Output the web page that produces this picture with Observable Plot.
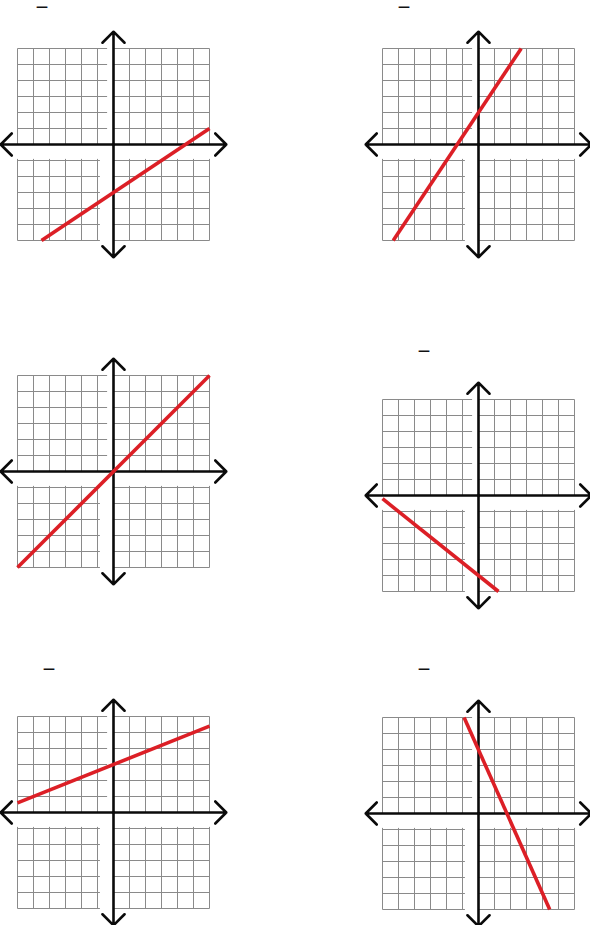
<!DOCTYPE html>
<html><head><meta charset="utf-8">
<script src="https://cdn.jsdelivr.net/npm/d3@7"></script>
<script src="https://cdn.jsdelivr.net/npm/@observablehq/plot@0.6"></script>
<style>
html,body{margin:0;padding:0;background:#fff;}
#page{position:relative;width:590px;height:925px;overflow:hidden;background:#fff;font-family:"DejaVu Sans",sans-serif;}
.g{position:absolute;width:240px;height:240px;}
.g svg{overflow:visible;background:transparent;max-width:none !important;width:240px !important;height:240px !important;display:block;}
.bar{position:absolute;font-size:12px;line-height:14px;font-weight:bold;color:#111;white-space:nowrap;}
</style></head><body><div id="page"></div>
<script>
// grid ticks (units) and axis reach
const gridTicks = [-6,-5,-4,-3,-2,-1,0,1,2,3,4,5,6];
const axisReach = 7.05;

// the six red lines, endpoints (graph units)
const graphIds   = ["1","2","3","4","5","6"];
const lineStartX = [-4.5, -5.33, -6, -6,   -6,  -0.9];
const lineStartY = [-6,   -6,    -6, -0.2,  0.6,  6];
const lineEndX   = [ 6,    2.67,  6,  1.25, 6,    4.45];
const lineEndY   = [ 1,    6,     6, -6,    5.4, -6];

// fraction-bar glyphs seen above some graphs
const barText = ["—","—","—","—","—"];

// layout: origin pixel of each graph
const originX = [113, 477.5, 113, 477.5, 113, 477.5];
const originY = [144, 144, 471, 495.3, 812.3, 812.5];
const barLeft = [36, 398, 418, 43, 418];
const barTop  = [0, 0, 343.5, 661.5, 661.5];

const page = document.getElementById("page");
const unit = 16, half = 7.5, size = 2 * half * unit;

// grid segments built from the tick list
const gridSegs = [];
for (const t of gridTicks) {
  gridSegs.push({x1: t, y1: 0, x2: t, y2: 6});
  gridSegs.push({x1: t, y1: -6, x2: t, y2: -0.9});
  if (t !== 0) {
    gridSegs.push({x1: 0, y1: t, x2: 6, y2: t});
    gridSegs.push({x1: -6, y1: t, x2: t > 0 ? -0.4 : -0.85, y2: t});
  }
}
const axes = [
  {x1: 0, y1: 0, x2: axisReach, y2: 0},
  {x1: 0, y1: 0, x2: -axisReach, y2: 0},
  {x1: 0, y1: 0, x2: 0, y2: axisReach},
  {x1: 0, y1: 0, x2: 0, y2: -axisReach}
];

graphIds.forEach((id, i) => {
  const seg = [{x1: lineStartX[i], y1: lineStartY[i], x2: lineEndX[i], y2: lineEndY[i]}];
  const chart = Plot.plot({
    width: size, height: size, margin: 0,
    x: {domain: [-half, half], axis: null},
    y: {domain: [-half, half], axis: null},
    marks: [
      Plot.link(gridSegs, {x1: "x1", y1: "y1", x2: "x2", y2: "y2", stroke: "#8a8a8a", strokeWidth: 1}),
      Plot.arrow(axes, {x1: "x1", y1: "y1", x2: "x2", y2: "y2", stroke: "#0a0a0a", strokeWidth: 2.6, headAngle: 90, headLength: 9, bend: 0}),
      Plot.link(seg, {x1: "x1", y1: "y1", x2: "x2", y2: "y2", stroke: "#dc1f26", strokeWidth: 3.6})
    ]
  });
  const wrap = document.createElement("div");
  wrap.className = "g";
  wrap.style.left = (originX[i] - size / 2) + "px";
  wrap.style.top = (originY[i] - size / 2) + "px";
  wrap.appendChild(chart);
  page.appendChild(wrap);
});

barText.forEach((t, i) => {
  const s = document.createElement("span");
  s.className = "bar";
  s.textContent = t;
  s.style.left = barLeft[i] + "px";
  s.style.top = barTop[i] + "px";
  page.appendChild(s);
});
</script>
</body></html>
